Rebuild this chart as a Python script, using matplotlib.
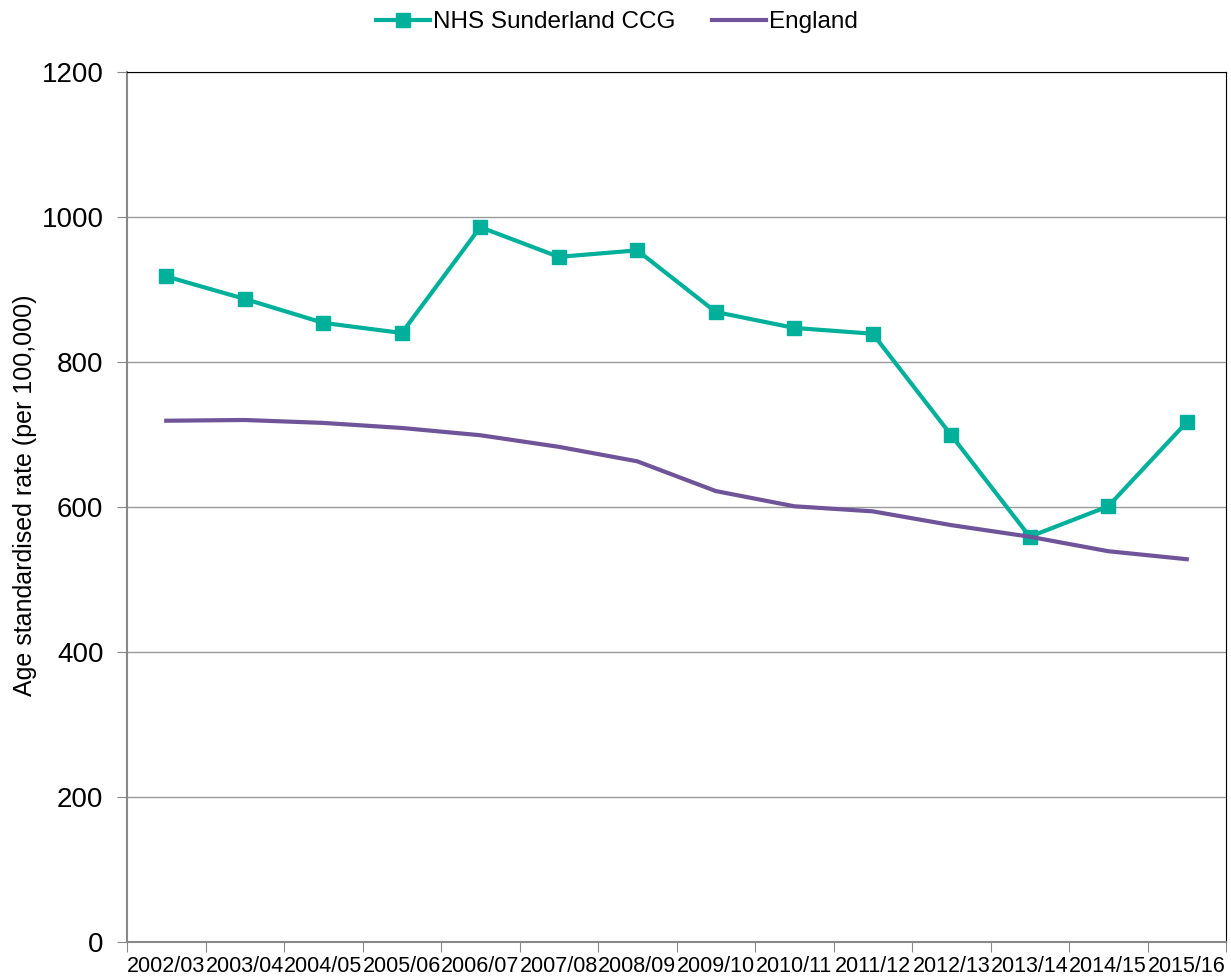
import matplotlib.pyplot as plt
import numpy as np

plt.rcParams['font.family'] = ['Liberation Sans', 'DejaVu Sans']

# Data
years = ["2002/03", "2003/04", "2004/05", "2005/06", "2006/07", "2007/08", "2008/09",
         "2009/10", "2010/11", "2011/12", "2012/13", "2013/14", "2014/15", "2015/16"]
sunderland = [918, 887, 854, 840, 986, 945, 954, 869, 847, 839, 699, 559, 601, 717]
england = [719, 720, 716, 709, 699, 683, 663, 622, 601, 594, 575, 559, 539, 528]

TEAL = "#00B09B"
PURPLE = "#6F5499"

fig = plt.figure(figsize=(12.31, 9.8), dpi=100)
ax = fig.add_axes([127 / 1231, 1 - 942 / 980, (1226 - 127) / 1231, (942 - 72) / 980])

x = np.arange(len(years))
ax.plot(x, sunderland, color=TEAL, lw=3, marker="s", markersize=10, label="NHS Sunderland CCG",
        zorder=3)
ax.plot(x, england, color=PURPLE, lw=3, label="England", zorder=3)

ax.set_xlim(-0.5, len(years) - 0.5)
ax.set_ylim(0, 1200)
ax.set_yticks(range(0, 1201, 200))
ax.tick_params(axis="y", labelsize=20, length=7, color="#888888", direction="out", pad=10)
ax.yaxis.grid(True, color="#999999", lw=1)
ax.set_axisbelow(True)

# category ticks at boundaries, labels at centres
ax.set_xticks(np.arange(-0.5, len(years)), minor=False)
ax.set_xticklabels([])
ax.set_xticks(x, minor=True)
ax.set_xticklabels(years, minor=True, fontsize=15.5)
ax.tick_params(axis="x", which="major", length=7, color="#888888", direction="out")
ax.tick_params(axis="x", which="minor", length=0, pad=10)

ax.spines["left"].set_color("#888888")
ax.spines["bottom"].set_color("#888888")
ax.spines["left"].set_linewidth(1.5)
ax.spines["bottom"].set_linewidth(1.5)
ax.spines["top"].set_color("black")
ax.spines["right"].set_color("black")

ax.set_ylabel("Age standardised rate (per 100,000)", fontsize=18)
ax.yaxis.set_label_coords(-0.082, 0.514)

ax.legend(loc="upper center", bbox_to_anchor=(0.446, 1.095), ncol=2, frameon=False,
          fontsize=17.5, handlelength=2.2, columnspacing=1.5, handletextpad=0.15)

plt.savefig("out.png", dpi=100)
